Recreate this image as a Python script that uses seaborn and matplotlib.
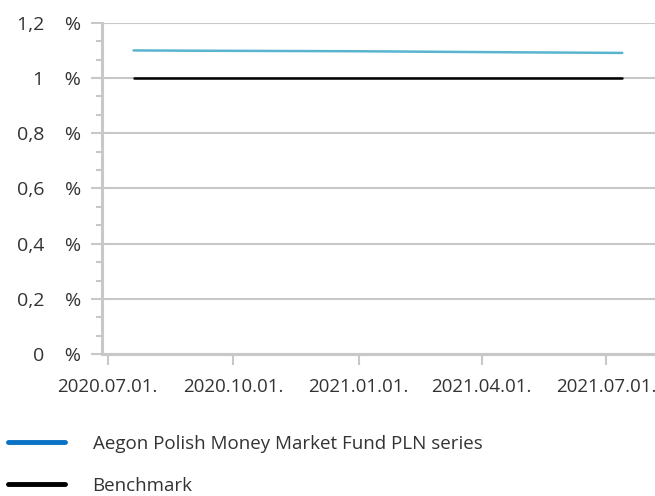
import pandas as pd
import seaborn as sns
import matplotlib.pyplot as plt
import matplotlib.dates as mdates
from matplotlib.lines import Line2D
from matplotlib.ticker import MultipleLocator, FuncFormatter

# values (percent)
dates = ["2020-07-20", "2020-09-01", "2020-11-01", "2021-01-01",
         "2021-03-01", "2021-05-01", "2021-07-13"]
fund = [1.100, 1.099, 1.098, 1.097, 1.095, 1.093, 1.091]
bench = [1.0, 1.0, 1.0, 1.0, 1.0, 1.0, 1.0]
tick_dates = ["2020-07-01", "2020-10-01", "2021-01-01", "2021-04-01", "2021-07-01"]
labels = ["Aegon Polish Money Market Fund PLN series", "Benchmark"]

df = pd.DataFrame({"date": pd.to_datetime(dates), "fund": fund, "bench": bench})

sns.set_style("white")
plt.rcParams["font.family"] = ["Open Sans", "DejaVu Sans"]
grey = "#c8c8c8"
txt = "#333333"

fig = plt.figure(figsize=(6.55, 4.96), dpi=100)
ax = fig.add_axes([0.156, 0.286, 0.844, 0.668])

sns.lineplot(data=df, x="date", y="fund", ax=ax, color="#5ab4d0", linewidth=1.8)
sns.lineplot(data=df, x="date", y="bench", ax=ax, color="black", linewidth=1.8)

ax.set_ylim(0, 1.2)
ax.set_xlim(pd.Timestamp("2020-06-27"), pd.Timestamp("2021-08-06"))
ax.yaxis.set_major_locator(MultipleLocator(0.2))
ax.yaxis.set_minor_locator(MultipleLocator(0.2 / 3))
ax.yaxis.set_major_formatter(FuncFormatter(
    lambda v, p: ("%g" % round(v, 1)).replace(".", ",") + "    %"))
ax.set_xticks(pd.to_datetime(tick_dates))
ax.xaxis.set_major_formatter(mdates.DateFormatter("%Y.%m.%d."))

ax.grid(axis="y", color=grey, linewidth=1.5)
ax.set_axisbelow(True)
sns.despine(ax=ax, top=True, right=True)
for s in ("left", "bottom"):
    ax.spines[s].set_color(grey)
    ax.spines[s].set_linewidth(2.2)

ax.tick_params(axis="y", which="major", left=True, length=8, width=1.5,
               color=grey, labelsize=14, labelcolor=txt, pad=7)
ax.tick_params(axis="y", which="minor", left=True, length=4, width=1.5, color=grey)
ax.tick_params(axis="x", bottom=True, length=8, width=1.5, color=grey,
               labelsize=13.5, labelcolor=txt, pad=9)
ax.set_xlabel("")
ax.set_ylabel("")

handles = [Line2D([], [], color="#0a72c4", linewidth=3.5),
           Line2D([], [], color="black", linewidth=3.5)]
fig.legend(handles, labels, loc="upper left", bbox_to_anchor=(0.001, 0.139),
           bbox_transform=fig.transFigure, frameon=False, fontsize=13.5,
           handlelength=3.05, handletextpad=1.45, labelspacing=1.3,
           labelcolor=txt, borderaxespad=0)

fig.savefig("out.png", dpi=100)
